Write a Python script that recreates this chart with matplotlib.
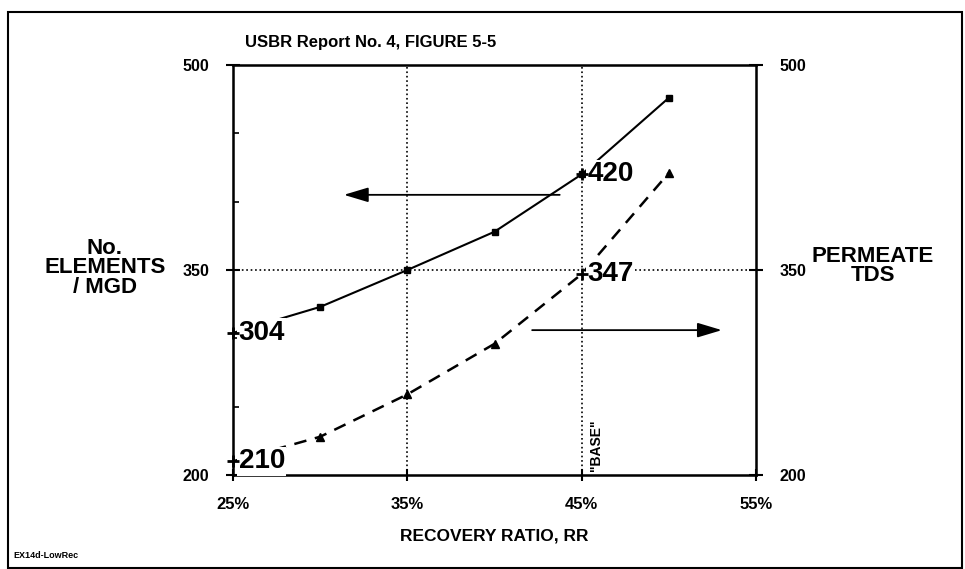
import matplotlib.pyplot as plt
from matplotlib.patches import Rectangle

plt.rcParams['font.family'] = ['Liberation Sans', 'DejaVu Sans']
plt.rcParams['font.weight'] = 'bold'

# donnees
recovery = [25, 30, 35, 40, 45, 50]
elements = [304, 323, 350, 378, 420, 476]
tds = [210, 228, 259, 296, 347, 421]
x_ticks = [25, 35, 45, 55]
x_labels = ['25%', '35%', '45%', '55%']
y_ticks = [200, 350, 500]
y_minor = [250, 300, 400, 450]

fig = plt.figure(figsize=(9.65, 5.69), dpi=100)
fig.patches.append(Rectangle((8 / 965, 1 / 569), 954 / 965, 556 / 569, transform=fig.transFigure,
                             fill=False, edgecolor='black', linewidth=1.5))

ax = fig.add_axes([233 / 965, 1 - 475 / 569, 523 / 965, 410 / 569])
ax.set_xlim(25, 55)
ax.set_ylim(200, 500)
for s in ax.spines.values():
    s.set_linewidth(1.8)

# grille pointillee
for xv in [35, 45]:
    ax.axvline(xv, color='black', linestyle=':', linewidth=1.2, zorder=1)
ax.axhline(350, color='black', linestyle=':', linewidth=1.2, zorder=1)

# courbe des elements
ax.plot(recovery, elements, color='black', linewidth=1.5, zorder=2)
ax.plot(recovery[1:], elements[1:], 's', color='black', markersize=4.5, zorder=3)

# courbe TDS (axe de droite, meme echelle)
ax2 = ax.twinx()
ax2.set_ylim(200, 500)
ax2.plot(recovery, tds, color='black', linewidth=1.8, linestyle=(0, (5, 3.5)), zorder=2)
ax2.plot(recovery[1:4] + recovery[5:], tds[1:4] + tds[5:], '^', color='black', markersize=5.5, zorder=3)

# valeurs annotees
for xv, yv, a in [(recovery[0], elements[0], ax), (recovery[0], tds[0], ax2),
                  (recovery[4], elements[4], ax), (recovery[4], tds[4], ax2)]:
    a.plot(xv, yv, '+', color='black', markersize=8, markeredgewidth=2, zorder=6, clip_on=False)
    a.annotate(str(yv), (xv, yv), xytext=(4, 0), textcoords='offset points', ha='left', va='center',
               fontsize=20, fontweight='bold', zorder=5,
               bbox=dict(boxstyle='square,pad=0.05', facecolor='white', edgecolor='none'))

# fleches
ax.annotate('', xy=(31.2, 405), xytext=(43.9, 405),
            arrowprops=dict(arrowstyle='-|>,head_length=1.5,head_width=0.45', color='black', lw=1.3))
ax2.annotate('', xy=(53.2, 306), xytext=(42.0, 306),
             arrowprops=dict(arrowstyle='-|>,head_length=1.5,head_width=0.45', color='black', lw=1.3))

ax.text(45.4, 203, '"BASE"', rotation=90, fontsize=10, fontweight='bold', ha='left', va='bottom')

# axes et graduations
ax.set_xticks(x_ticks)
ax.set_xticklabels(x_labels, fontsize=12, fontweight='bold')
ax.tick_params(axis='x', direction='inout', length=8, width=1.5, pad=12)
ax.set_yticks(y_ticks)
ax.set_yticks(y_minor, minor=True)
ax.tick_params(axis='y', which='major', direction='inout', length=10, width=1.5, labelsize=11.5, pad=12)
ax.tick_params(axis='y', which='minor', direction='in', length=4, width=1.2)
ax2.set_yticks(y_ticks)
ax2.tick_params(axis='y', direction='inout', length=10, width=1.5, labelsize=11.5, pad=12)
for lab in ax.get_yticklabels() + ax2.get_yticklabels():
    lab.set_fontweight('bold')

ax.set_xlabel('RECOVERY RATIO, RR', fontsize=12.5, fontweight='bold', labelpad=12)

fig.text(245 / 965, 1 - 42 / 569, 'USBR Report No. 4, FIGURE 5-5', fontsize=12, fontweight='bold',
         ha='left', va='center')
fig.text(105 / 965, 1 - 268 / 569, 'No.\nELEMENTS\n/ MGD', fontsize=16, fontweight='bold',
         ha='center', va='center', linespacing=0.9)
fig.text(873 / 965, 1 - 266 / 569, 'PERMEATE\nTDS', fontsize=16, fontweight='bold',
         ha='center', va='center', linespacing=0.9)
fig.text(13 / 965, 1 - 556 / 569, 'EX14d-LowRec', fontsize=6.5, fontweight='bold', ha='left', va='center')

fig.savefig('out.png', dpi=100)
